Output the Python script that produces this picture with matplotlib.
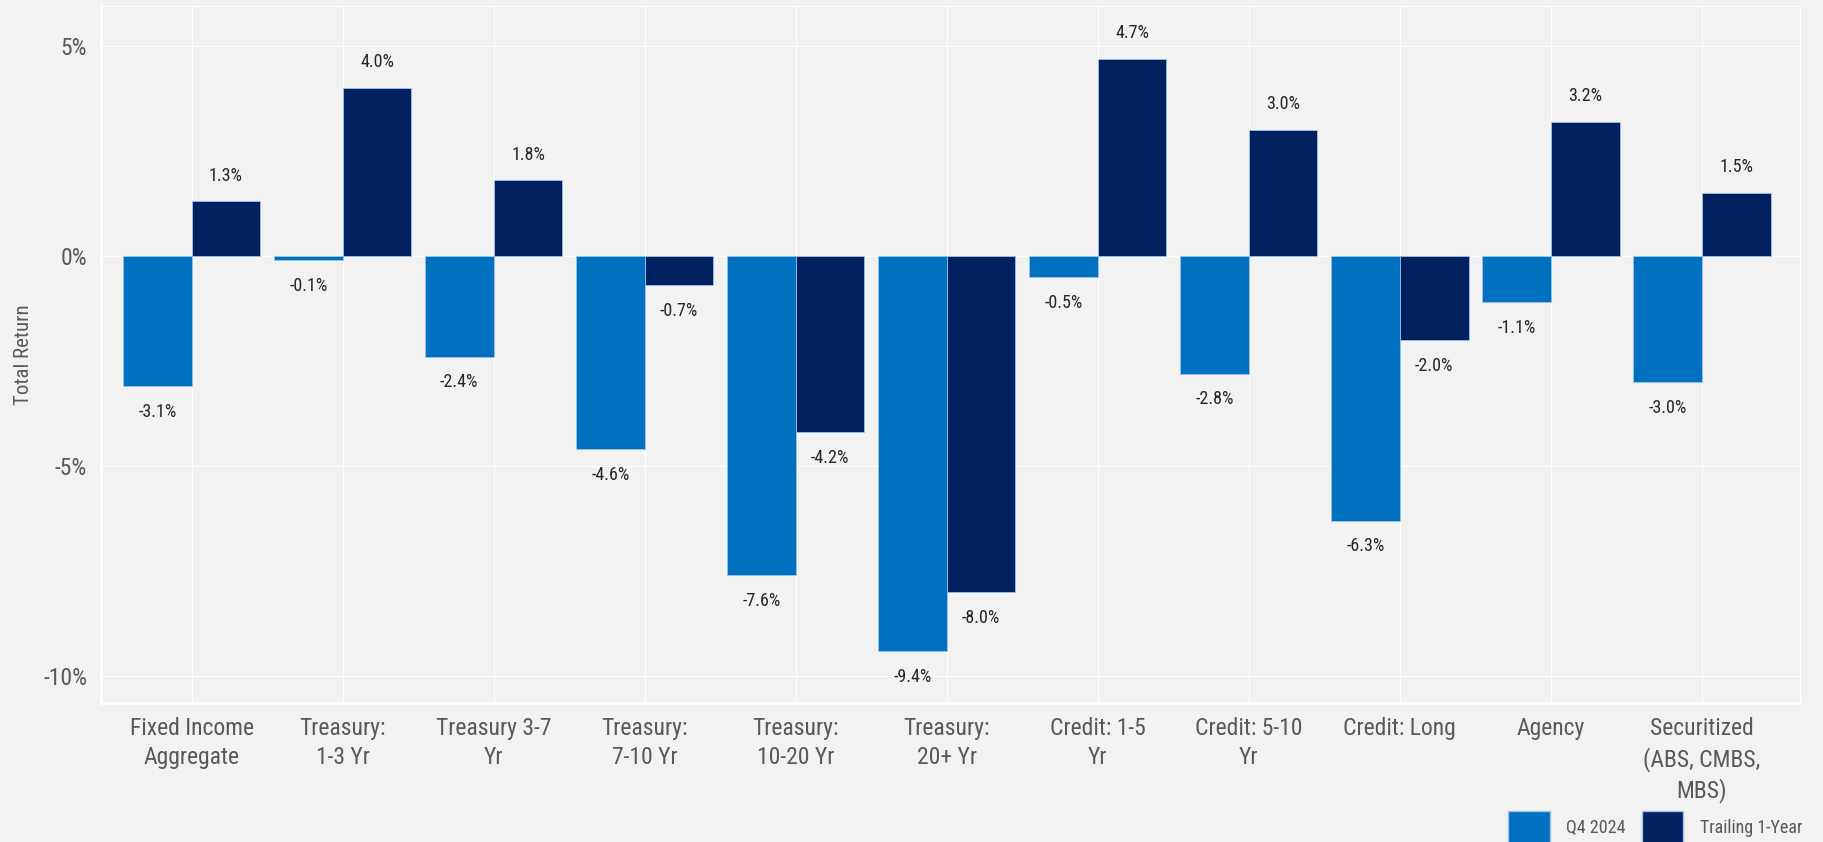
import numpy as np
import matplotlib.pyplot as plt
from matplotlib.patches import Patch

categories = ["Fixed Income\nAggregate", "Treasury:\n1-3 Yr", "Treasury 3-7\nYr", "Treasury:\n7-10 Yr",
              "Treasury:\n10-20 Yr", "Treasury:\n20+ Yr", "Credit: 1-5\nYr", "Credit: 5-10\nYr",
              "Credit: Long", "Agency", "Securitized\n(ABS, CMBS,\nMBS)"]
q4_2024 = [-3.1, -0.1, -2.4, -4.6, -7.6, -9.4, -0.5, -2.8, -6.3, -1.1, -3.0]
trailing_1y = [1.3, 4.0, 1.8, -0.7, -4.2, -8.0, 4.7, 3.0, -2.0, 3.2, 1.5]
series_names = ["Q4 2024", "Trailing 1-Year"]
yticks = [5, 0, -5, -10]

plt.rcParams['font.family'] = ['Liberation Sans Narrow', 'DejaVu Sans Condensed', 'Roboto Condensed',
                               'Liberation Sans', 'DejaVu Sans']

light = "#0070c0"
dark = "#002060"
bg = "#f2f2f2"

fig = plt.figure(figsize=(18.23, 8.42), dpi=100, facecolor=bg)
ax = fig.add_axes([101 / 1823, 1 - 703 / 842, 1699 / 1823, 697 / 842], facecolor=bg)

x = np.arange(len(categories))
w = 0.455
b1 = ax.bar(x - w / 2, q4_2024, w, color=light, edgecolor="#9cc3e6", linewidth=0.6, zorder=3)
b2 = ax.bar(x + w / 2, trailing_1y, w, color=dark, edgecolor="#9cc3e6", linewidth=0.6, zorder=3)

# value labels above positive bars, below negative ones
for bars, vals in [(b1, q4_2024), (b2, trailing_1y)]:
    for rect, v in zip(bars, vals):
        cx = rect.get_x() + rect.get_width() / 2
        off = 12 if v >= 0 else -12
        ax.annotate(f"{v:.1f}%", (cx, v), xytext=(0, off), textcoords="offset points",
                    ha="center", va="bottom" if v >= 0 else "top", fontsize=13, color="#262626")

ax.set_xlim(-0.6, 10.65)
ax.set_ylim(-10.64, 5.95)
ax.set_yticks(yticks)
ax.set_yticklabels([f"{t}%" for t in yticks])
ax.set_xticks(x)
ax.set_xticklabels(categories, linespacing=1.35)
ax.tick_params(axis="both", length=0, labelsize=17, labelcolor="#595959")
ax.tick_params(axis="x", pad=10)
ax.tick_params(axis="y", pad=10)
ax.grid(True, color="white", linewidth=0.8, zorder=0)
ax.set_axisbelow(True)
for side in ["top", "right"]:
    ax.spines[side].set_color("white")
    ax.spines[side].set_linewidth(0.8)
for side in ["left", "bottom"]:
    ax.spines[side].set_color("white")
    ax.spines[side].set_linewidth(2)

ax.set_ylabel("Total Return", fontsize=15, color="#595959")
ax.yaxis.set_label_coords((33 - 101) / 1699, 0.5)

handles = [Patch(facecolor=light, edgecolor="#9cc3e6"), Patch(facecolor=dark, edgecolor="#9cc3e6")]
fig.legend(handles, series_names, loc="lower right", bbox_to_anchor=(1802 / 1823, -0.003), ncol=2,
           frameon=False, fontsize=13, labelcolor="#595959", handlelength=2.3, handleheight=2.5,
           columnspacing=0.9, handletextpad=0.9, borderpad=0, borderaxespad=0)

fig.savefig("out.png", dpi=100, facecolor=bg)
